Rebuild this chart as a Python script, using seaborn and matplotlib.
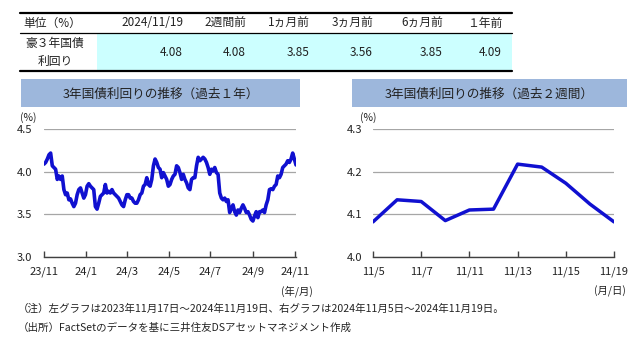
import matplotlib
matplotlib.use("Agg")
import matplotlib.pyplot as plt
from matplotlib.patches import Rectangle
from matplotlib.lines import Line2D
import numpy as np
import pandas as pd
import seaborn as sns

sns.set_theme(style="white")
plt.rcParams['font.family'] = ['Noto Sans CJK JP', 'DejaVu Sans']

# ---------------- data ----------------
table_header = ["単位（%）", "2024/11/19", "2週間前", "1ヵ月前", "3ヵ月前", "6ヵ月前", "１年前"]
row_label = ["豪３年国債", "利回り"]
table_values = ["4.08", "4.08", "3.85", "3.56", "3.85", "4.09"]

left_title = "3年国債利回りの推移（過去１年）"
right_title = "3年国債利回りの推移（過去２週間）"

year_start = "2023-11-17"
year_end = "2024-11-19"
year_values = [4.09, 4.11, 4.15, 4.20, 4.22, 4.07, 4.05, 4.03, 3.91, 3.95, 3.91, 3.95,
               3.79, 3.73, 3.75, 3.67, 3.68, 3.63, 3.59, 3.63, 3.73, 3.79, 3.81, 3.75,
               3.69, 3.73, 3.83, 3.86, 3.83, 3.81, 3.79, 3.59, 3.56, 3.63, 3.71, 3.73,
               3.75, 3.85, 3.75, 3.77, 3.75, 3.79, 3.75, 3.73, 3.71, 3.69, 3.65, 3.61,
               3.59, 3.67, 3.73, 3.73, 3.69, 3.69, 3.65, 3.63, 3.63, 3.67, 3.73, 3.75,
               3.83, 3.85, 3.93, 3.85, 3.83, 3.91, 4.07, 4.15, 4.11, 4.05, 4.03, 3.93,
               3.99, 3.95, 3.91, 3.83, 3.85, 3.91, 3.95, 3.97, 4.07, 4.05, 3.99, 3.91,
               3.97, 3.91, 3.87, 3.81, 3.79, 3.91, 3.93, 3.93, 4.07, 4.17, 4.13, 4.15,
               4.17, 4.15, 4.11, 4.05, 3.97, 4.03, 4.01, 4.05, 3.99, 3.97, 3.75, 3.69,
               3.67, 3.69, 3.65, 3.67, 3.52, 3.57, 3.61, 3.53, 3.49, 3.55, 3.52, 3.57,
               3.61, 3.57, 3.52, 3.53, 3.49, 3.44, 3.42, 3.48, 3.53, 3.46, 3.53, 3.53,
               3.55, 3.52, 3.61, 3.67, 3.79, 3.80, 3.79, 3.83, 3.85, 3.95, 3.93, 3.97,
               4.05, 4.07, 4.09, 4.13, 4.11, 4.15, 4.22, 4.15, 4.08]
year_tick_dates = ["2023-11-17", "2024-01-17", "2024-03-17", "2024-05-17",
                   "2024-07-17", "2024-09-17", "2024-11-17"]
year_tick_labels = ["23/11", "24/1", "24/3", "24/5", "24/7", "24/9", "24/11"]

week_dates = ["11/5", "11/6", "11/7", "11/8", "11/11", "11/12", "11/13",
              "11/14", "11/15", "11/18", "11/19"]
week_values = [4.082, 4.134, 4.130, 4.085, 4.110, 4.112, 4.218, 4.211, 4.173, 4.124, 4.082]
week_tick_labels = ["11/5", "11/7", "11/11", "11/13", "11/15", "11/19"]

footnotes = ["（注）左グラフは2023年11月17日～2024年11月19日、右グラフは2024年11月5日～2024年11月19日。",
             "（出所）FactSetのデータを基に三井住友DSアセットマネジメント作成"]

# ---------------- figure ----------------
W, H = 640, 350
fig = plt.figure(figsize=(W / 100, H / 100), dpi=100)
fig.patch.set_facecolor("white")

def fx(x):
    return x / W

def fy(y):
    return 1 - y / H

TXT = "#222222"
LINE_C = "#1010D0"

# ---- table ----
fig.patches.append(Rectangle((fx(97), fy(71)), fx(512) - fx(97), fy(33) - fy(71),
                             transform=fig.transFigure, facecolor="#CCFFFF", edgecolor="none"))
for yy, lw in [(12.5, 1.6), (33.3, 0.9), (71, 1.6)]:
    fig.lines.append(Line2D([fx(20), fx(512)], [fy(yy), fy(yy)], transform=fig.transFigure,
                            color="black", lw=lw))
col_right = [183, 246, 310, 373, 443, 502]
fig.text(fx(52), fy(23), table_header[0], ha="center", va="center", fontsize=8.5, color=TXT)
for xr, h, v in zip(col_right, table_header[1:], table_values):
    fig.text(fx(xr), fy(23), h, ha="right", va="center", fontsize=8.5, color=TXT)
    fig.text(fx(xr), fy(52), v, ha="right", va="center", fontsize=8.5, color=TXT)
fig.text(fx(55), fy(43), row_label[0], ha="center", va="center", fontsize=8.5, color=TXT)
fig.text(fx(55), fy(61.5), row_label[1], ha="center", va="center", fontsize=8.5, color=TXT)

# ---- title boxes ----
BOX_C = "#9DB7DC"
for (x0, x1), t in [((21, 300), left_title), ((352, 627), right_title)]:
    fig.patches.append(Rectangle((fx(x0), fy(107)), fx(x1) - fx(x0), fy(79) - fy(107),
                                 transform=fig.transFigure, facecolor=BOX_C, edgecolor="none"))
    fig.text(fx((x0 + x1) / 2), fy(94), t, ha="center", va="center", fontsize=9.1, color=TXT)

# ---- left chart ----
axL = fig.add_axes([fx(44), fy(256.7), fx(296) - fx(44), fy(129.3) - fy(256.7)])
dfL = pd.DataFrame({"date": pd.date_range(year_start, year_end, periods=len(year_values)),
                    "value": year_values})
sns.lineplot(data=dfL, x="date", y="value", ax=axL, color=LINE_C, lw=2.6)
axL.set_xlim(pd.Timestamp(year_start), pd.Timestamp(year_end))
axL.set_ylim(3.0, 4.5)
axL.set_yticks([3.0, 3.5, 4.0, 4.5])
axL.set_yticklabels(["3.0", "3.5", "4.0", "4.5"])
axL.set_xticks([pd.Timestamp(d) for d in year_tick_dates])
axL.set_xticklabels(year_tick_labels)

# ---- right chart ----
axR = fig.add_axes([fx(373), fy(256.7), fx(614) - fx(373), fy(129.3) - fy(256.7)])
dfR = pd.DataFrame({"pos": np.arange(len(week_dates)), "value": week_values})
sns.lineplot(data=dfR, x="pos", y="value", ax=axR, color=LINE_C, lw=2.5)
axR.set_xlim(0, len(week_dates) - 1)
axR.set_ylim(4.0, 4.3)
axR.set_yticks([4.0, 4.1, 4.2, 4.3])
axR.set_yticklabels(["4.0", "4.1", "4.2", "4.3"])
axR.set_xticks([week_dates.index(t) for t in week_tick_labels])
axR.set_xticklabels(week_tick_labels)

for ax, ypad in [(axL, 8.5), (axR, 7.5)]:
    ax.set_xlabel("")
    ax.set_ylabel("")
    ax.set_facecolor("none")
    for s in ["left", "right", "top"]:
        ax.spines[s].set_visible(False)
    ax.spines["bottom"].set_color("#404040")
    ax.spines["bottom"].set_linewidth(1.0)
    ax.grid(axis="y", color="#A6A6A6", lw=0.9)
    ax.grid(axis="x", visible=False)
    ax.tick_params(axis="x", direction="in", length=4, width=1.0, color="#404040",
                   pad=7, labelsize=8, labelcolor=TXT, bottom=True)
    ax.tick_params(axis="y", length=0, pad=ypad, labelsize=8, labelcolor=TXT)
    ax.set_axisbelow(True)

fig.text(fx(28), fy(117.5), "(%)", ha="center", va="center", fontsize=7.5, color=TXT)
fig.text(fx(368), fy(117.5), "(%)", ha="center", va="center", fontsize=7.5, color=TXT)
fig.text(fx(297), fy(291), "(年/月)", ha="center", va="center", fontsize=7.5, color=TXT)
fig.text(fx(610), fy(291), "(月/日)", ha="center", va="center", fontsize=7.5, color=TXT)

fig.text(fx(18), fy(309), footnotes[0], ha="left", va="center", fontsize=7.55, color=TXT)
fig.text(fx(18), fy(328), footnotes[1], ha="left", va="center", fontsize=7.55, color=TXT)

fig.savefig("out.png", dpi=100, facecolor="white")
